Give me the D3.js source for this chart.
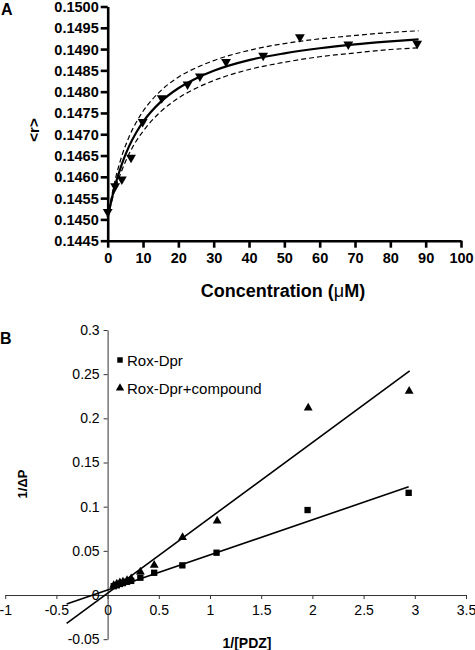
<!DOCTYPE html>
<html><head><meta charset="utf-8">
<script src="https://cdn.jsdelivr.net/npm/d3@7"></script>
<style>body{margin:0;background:#fff}svg{display:block}</style>
</head><body>
<script>
// ---- Panel A data ----
const aConc = [0, 2.1, 4.0, 6.6, 9.9, 15.3, 22.6, 26.1, 33.5, 44.0, 54.4, 68.1, 87.6];
const aR    = [0.14518, 0.14578, 0.14594, 0.14645, 0.14729, 0.14785, 0.14817, 0.14836, 0.14870, 0.14885, 0.14928, 0.14911, 0.14913];
const fitConc  = [0, 2, 4, 6, 8, 10, 15, 20, 25, 30, 40, 50, 60, 70, 80, 88];
const fitR     = [0.14505, 0.14577, 0.14630, 0.14671, 0.14703, 0.14729, 0.14776, 0.14808, 0.14831, 0.14849, 0.14874, 0.14890, 0.14902, 0.14911, 0.14918, 0.14923];
const fitUpper = [0.14505, 0.14589, 0.14649, 0.14693, 0.14727, 0.14754, 0.14802, 0.14834, 0.14856, 0.14873, 0.14897, 0.14913, 0.14924, 0.14932, 0.14939, 0.14943];
const fitLower = [0.14505, 0.14568, 0.14615, 0.14653, 0.14683, 0.14707, 0.14753, 0.14785, 0.14808, 0.14826, 0.14852, 0.14869, 0.14882, 0.14891, 0.14899, 0.14903];
const aXTicks = [0,10,20,30,40,50,60,70,80,90,100];
const aYTicks = [0.1445,0.1450,0.1455,0.1460,0.1465,0.1470,0.1475,0.1480,0.1485,0.1490,0.1495,0.1500];

// ---- Panel B data ----
const seriesNames = ["Rox-Dpr", "Rox-Dpr+compound"];
const sqX = [0.06, 0.09, 0.12, 0.15, 0.19, 0.23, 0.32, 0.455, 0.73, 1.064, 1.953, 2.94];
const sqY = [0.0100, 0.0110, 0.0125, 0.0135, 0.0150, 0.0160, 0.0196, 0.0252, 0.0336, 0.0479, 0.0962, 0.1157];
const trX = [0.06, 0.09, 0.12, 0.15, 0.19, 0.23, 0.32, 0.455, 0.732, 1.07, 1.959, 2.945];
const trY = [0.0110, 0.0125, 0.0140, 0.0150, 0.0165, 0.0185, 0.0262, 0.0339, 0.0653, 0.0840, 0.2119, 0.2308];
const sqLineX = [-0.4, 2.94];
const sqLineY = [-0.0102, 0.1225];
const trLineX = [-0.4, 2.95];
const trLineY = [-0.032, 0.2537];
const bXTicks = [-1,-0.5,0,0.5,1,1.5,2,2.5,3,3.5];
const bYTicks = [-0.05,0,0.05,0.1,0.15,0.2,0.25,0.3];

const W = 475, H = 650;
const svg = d3.select("body").append("svg").attr("width", W).attr("height", H)
  .style("font-family", "'Liberation Sans', Arial, Helvetica, sans-serif");

// ================= Panel A =================
const ax = d3.scaleLinear().domain([0, 100]).range([107.7, 461]);
const ay = d3.scaleLinear().domain([0.1445, 0.1500]).range([240.7, 6.5]);

svg.append("text").attr("x", 1).attr("y", 15).attr("font-size", 16).attr("font-weight", "bold").text("A");

const gAX = svg.append("g").attr("transform", `translate(0,${ay(0.1445)})`)
  .call(d3.axisBottom(ax).tickValues(aXTicks).tickSize(7).tickSizeOuter(0).tickPadding(5).tickFormat(d3.format("d")));
const gAY = svg.append("g").attr("transform", `translate(${ax(0)},0)`)
  .call(d3.axisLeft(ay).tickValues(aYTicks).tickSize(7).tickSizeOuter(0).tickPadding(2).tickFormat(d3.format(".4f")));
[gAX, gAY].forEach(g => {
  g.select(".domain").attr("stroke", "#000").attr("stroke-width", 2.6);
  g.selectAll(".tick line").attr("stroke", "#000").attr("stroke-width", 2.6);
  g.selectAll(".tick text").attr("fill", "#000").attr("font-size", 14.5).attr("font-weight", "bold")
    .attr("font-family", "'Liberation Sans', Arial, sans-serif");
});
gAY.selectAll(".tick text").attr("dy", "0.34em");

const lineA = (xs, ys) => d3.line().x((d, i) => ax(xs[i])).y(d => ay(d)).curve(d3.curveMonotoneX)(ys);
svg.append("path").attr("d", lineA(fitConc, fitUpper)).attr("fill", "none").attr("stroke", "#000")
  .attr("stroke-width", 1.2).attr("stroke-dasharray", "5,3");
svg.append("path").attr("d", lineA(fitConc, fitLower)).attr("fill", "none").attr("stroke", "#000")
  .attr("stroke-width", 1.2).attr("stroke-dasharray", "5,3");
svg.append("path").attr("d", lineA(fitConc, fitR)).attr("fill", "none").attr("stroke", "#000")
  .attr("stroke-width", 2.2);

const triDown = d3.symbol().type(d3.symbolTriangle).size(42);
svg.append("g").selectAll("path").data(aR).join("path")
  .attr("d", triDown)
  .attr("transform", (d, i) => `translate(${ax(aConc[i])},${ay(d)}) rotate(180)`)
  .attr("fill", "#000");

svg.append("text").attr("transform", "translate(33.5,130) rotate(-90)")
  .attr("text-anchor", "middle").attr("dominant-baseline", "central")
  .attr("font-size", 15).attr("font-weight", "bold").text("<r>");

const tA = svg.append("text").attr("x", 283).attr("y", 296.5).attr("text-anchor", "middle")
  .attr("font-size", 18).attr("font-weight", "bold");
tA.append("tspan").text("Concentration (");
tA.append("tspan").attr("font-weight", "normal").text("μ");
tA.append("tspan").text("M)");

// ================= Panel B =================
const bx = d3.scaleLinear().domain([-1, 3.5]).range([5.2, 466]);
const by = d3.scaleLinear().domain([-0.05, 0.3]).range([639.2, 330]);

svg.append("text").attr("x", 0).attr("y", 344).attr("font-size", 16).attr("font-weight", "bold").text("B");

const fmtB = d => String(+d.toFixed(2));
const gBX = svg.append("g").attr("transform", `translate(0,${by(0)})`)
  .call(d3.axisBottom(bx).tickValues(bXTicks).tickSize(4).tickSizeOuter(0).tickPadding(6).tickFormat(fmtB));
const gBY = svg.append("g").attr("transform", `translate(${bx(0)},0)`)
  .call(d3.axisLeft(by).tickValues(bYTicks).tickSize(4).tickSizeOuter(0).tickPadding(4).tickFormat(fmtB));
[gBX, gBY].forEach(g => {
  g.select(".domain").attr("stroke", "#333").attr("stroke-width", 1);
  g.selectAll(".tick line").attr("stroke", "#333").attr("stroke-width", 1);
  g.selectAll(".tick text").attr("fill", "#000").attr("font-size", 14)
    .attr("font-family", "'Liberation Sans', Arial, sans-serif");
});

const lineB = (xs, ys) => d3.line().x((d, i) => bx(xs[i])).y(d => by(d))(ys);
svg.append("path").attr("d", lineB(sqLineX, sqLineY)).attr("fill", "none").attr("stroke", "#000").attr("stroke-width", 1.6);
svg.append("path").attr("d", lineB(trLineX, trLineY)).attr("fill", "none").attr("stroke", "#000").attr("stroke-width", 1.6);

const sqSym = d3.symbol().type(d3.symbolSquare).size(40);
const trSym = d3.symbol().type(d3.symbolTriangle).size(34);
svg.append("g").selectAll("path").data(sqY).join("path")
  .attr("d", sqSym).attr("transform", (d, i) => `translate(${bx(sqX[i])},${by(d)})`).attr("fill", "#000");
svg.append("g").selectAll("path").data(trY).join("path")
  .attr("d", trSym).attr("transform", (d, i) => `translate(${bx(trX[i])},${by(d)})`).attr("fill", "#000");

// legend
const leg = svg.append("g");
leg.append("path").attr("d", d3.symbol().type(d3.symbolSquare).size(30)).attr("transform", "translate(120,360)").attr("fill", "#000");
leg.append("path").attr("d", d3.symbol().type(d3.symbolTriangle).size(30)).attr("transform", "translate(120,388)").attr("fill", "#000");
leg.append("text").attr("x", 127).attr("y", 365.5).attr("font-size", 15).text(seriesNames[0]);
leg.append("text").attr("x", 127).attr("y", 393.5).attr("font-size", 15).text(seriesNames[1]);

svg.append("text").attr("transform", "translate(22,484) rotate(-90)")
  .attr("text-anchor", "middle").attr("dominant-baseline", "central")
  .attr("font-size", 13).attr("font-weight", "bold").text("1/ΔP");
svg.append("text").attr("x", 247).attr("y", 648).attr("text-anchor", "middle")
  .attr("font-size", 14).attr("font-weight", "bold").text("1/[PDZ]");
</script>
</body></html>
